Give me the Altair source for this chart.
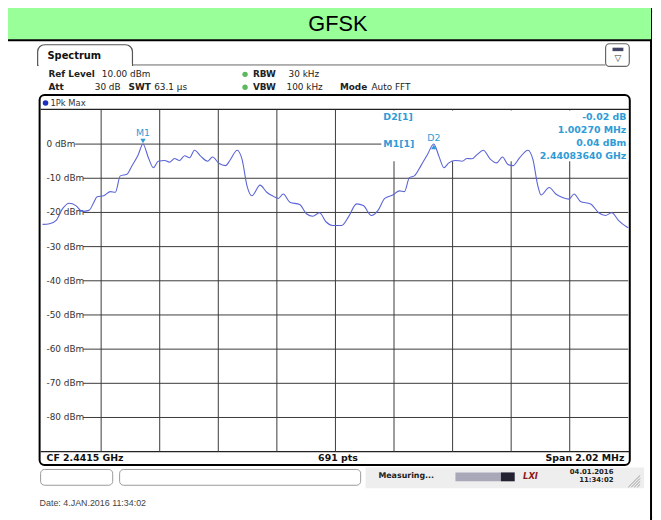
import altair as alt

# ---------------- data ----------------
# frequency offset from CF 2.4415 GHz, in kHz  /  level in dBm
freq_khz = [-1010, -986, -963, -941, -918, -895, -873, -850, -833, -822,
            -799, -776, -759, -742, -719, -702, -680, -664, -645, -628,
            -611, -589, -572, -555, -538, -520, -503, -486, -464, -441,
            -424, -401, -379, -362, -339, -322, -305, -288, -260, -237,
            -214, -197, -180, -157, -123, -100, -78, -55, -32, -10,
            22, 45, 73, 96, 124, 147, 170, 198, 221, 238,
            255, 272, 295, 317, 339, 357, 374, 391, 414, 437,
            454, 471, 488, 510, 533, 556, 576, 595, 612, 635,
            664, 681, 698, 709, 737, 760, 783, 806, 823, 845,
            880, 908, 931, 953, 976, 1004, 1010]
level_dbm = [-23.5, -23.3, -22.3, -18.9, -17.3, -18.0, -19.7, -19.4, -17.0, -15.4,
             -15.1, -13.9, -14.1, -9.3, -8.8, -6.4, -3.1, 0.04, -4.0, -6.9,
             -5.0, -4.8, -5.3, -4.2, -4.8, -3.4, -4.0, -1.8, -3.6, -5.0,
             -3.8, -5.7, -6.3, -4.5, -1.8, -4.5, -12.2, -15.1, -12.0, -14.1,
             -15.3, -15.9, -14.6, -17.0, -17.7, -20.4, -21.1, -20.1, -22.8, -23.8,
             -23.8, -21.3, -17.5, -18.0, -20.9, -19.4, -15.9, -14.9, -13.7, -13.9,
             -9.8, -9.3, -6.3, -3.1, 0.02, -3.6, -6.9, -5.5, -4.8, -5.0,
             -4.2, -4.3, -3.1, -1.8, -4.3, -5.5, -3.8, -6.0, -6.3, -4.0,
             -1.8, -4.5, -12.2, -14.9, -12.7, -14.6, -15.6, -16.1, -14.6, -16.8,
             -17.5, -20.1, -20.9, -20.1, -22.3, -24.2, -24.5]

grid_freqs = [-808, -606, -404, -202, 0, 202, 404, 606, 808]
grid_levels = [0, -10, -20, -30, -40, -50, -60, -70, -80]
grid_labels = ["0 dBm", "-10 dBm", "-20 dBm", "-30 dBm", "-40 dBm",
               "-50 dBm", "-60 dBm", "-70 dBm", "-80 dBm"]

marker_names = ["M1", "D2"]
marker_freqs = [-663.6, 339.1]
marker_levels = [0.04, 0.02]

title_text = "GFSK"
footer_text = "Date: 4.JAN.2016  11:34:02"

# ---------------- layout helpers ----------------
W, H = 653, 512
FONT = "DejaVu Sans"


def P(v):
    return v - 8


one = alt.Data(values=[{"k": 1}])


def rect(x1, y1, x2, y2, **kw):
    return alt.Chart(one).mark_rect(**kw).encode(
        x=alt.value(P(x1)), x2=alt.value(P(x2)),
        y=alt.value(P(y1)), y2=alt.value(P(y2)))


def seg(x1, y1, x2, y2, color="#333333", width=1.0, **kw):
    return alt.Chart(one).mark_rule(color=color, strokeWidth=width, **kw).encode(
        x=alt.value(P(x1)), x2=alt.value(P(x2)),
        y=alt.value(P(y1)), y2=alt.value(P(y2)))


def txt(s, x, y, size=9, bold=False, color="#222222", align="left", font=FONT, **kw):
    return alt.Chart(one).mark_text(
        text=s, font=font, fontSize=size, fontWeight="bold" if bold else "normal",
        color=color, align=align, baseline="middle", **kw).encode(
        x=alt.value(P(x)), y=alt.value(P(y)))


xs = alt.Scale(domain=[-1010, 1010], range=[P(43), P(636)], nice=False, zero=False)
ys = alt.Scale(domain=[-90, 10], range=[P(454), P(108)], nice=False, zero=False)

trace_df = alt.Data(values=[{"f": f, "l": l} for f, l in zip(freq_khz, level_dbm)])
vgrid_df = alt.Data(values=[{"f": f} for f in grid_freqs])
hgrid_df = alt.Data(values=[{"l": l, "lab": s} for l, s in zip(grid_levels, grid_labels)])
mark_df = alt.Data(values=[{"n": n, "f": f, "l": l}
                           for n, f, l in zip(marker_names, marker_freqs, marker_levels)])

MBLUE = "#2f9bd7"
GRID = "#3a3a3a"

layers = []

# outer frame + title bar
layers.append(rect(4, 1, 659, 530, fill="white", stroke="black", strokeWidth=2))
layers.append(rect(4, 2, 659, 37, fill="#99FF99"))
layers.append(seg(4, 37.5, 659, 37.5, color="black", width=2))
layers.append(txt(title_text, 342, 21, size=22, font="Liberation Sans", color="black", align="center"))

# Spectrum tab and header line
layers.append(seg(134, 62.5, 613, 62.5, color="#666666", width=1))
layers.append(rect(38, 42, 134, 63, fill="white", stroke="#555555", strokeWidth=1.2,
                   cornerRadiusTopLeft=7, cornerRadiusTopRight=7))
layers.append(rect(39, 61, 133.5, 64, fill="white"))
layers.append(txt("Spectrum", 48, 53, size=10, bold=True, color="#111111"))
layers.append(rect(613, 41, 637, 64, fill="white", stroke="#666666", strokeWidth=1.2, cornerRadius=4))
layers.append(rect(620, 45, 631, 48.5, fill="#444466"))
layers.append(txt("\u25bd", 625.5, 55.5, size=9, color="#333333", align="center"))

# header settings
layers += [
    txt("Ref Level", 49, 72, bold=True),
    txt("10.00 dBm", 103, 72),
    txt("RBW", 256, 72, bold=True),
    txt("30 kHz", 292, 72),
    txt("Att", 49, 85, bold=True),
    txt("30 dB", 122, 85, align="right"),
    txt("SWT", 130, 85, bold=True),
    txt("63.1 \u00b5s", 156, 85),
    txt("VBW", 256, 85, bold=True),
    txt("100 kHz", 290, 85),
    txt("Mode", 344, 85, bold=True),
    txt("Auto FFT", 376, 85),
]
for yy in (72, 85):
    layers.append(alt.Chart(one).mark_point(shape="circle", filled=True, size=30,
                                            color="#5cb85c", opacity=1).encode(
        x=alt.value(P(248)), y=alt.value(P(yy))))

# display frame
layers.append(rect(40, 93, 637.5, 467.5, fill="white", stroke="black", strokeWidth=2, cornerRadius=5))
layers.append(alt.Chart(one).mark_point(shape="circle", filled=True, size=32,
                                        color="#1c2fbf", opacity=1).encode(
    x=alt.value(P(46)), y=alt.value(P(101))))
layers.append(txt("1Pk Max", 51, 101, size=8.5, color="#333333"))

# plot box borders
layers.append(seg(41, 107.5, 637, 107.5, color="#222222", width=1.2))
layers.append(seg(41, 454, 637, 454, color="#222222", width=1.2))

# grid
layers.append(alt.Chart(vgrid_df).mark_rule(color=GRID, strokeWidth=1).encode(
    x=alt.X("f:Q", scale=xs, axis=None),
    y=alt.value(P(108)), y2=alt.value(P(454))))
layers.append(alt.Chart(hgrid_df).transform_filter("datum.l < 0").mark_rule(
    color=GRID, strokeWidth=1).encode(
    y=alt.Y("l:Q", scale=ys, axis=None),
    x=alt.value(P(84)), x2=alt.value(P(636))))
layers.append(alt.Chart(hgrid_df).transform_filter("datum.l == 0").mark_rule(
    color=GRID, strokeWidth=1).encode(
    y=alt.Y("l:Q", scale=ys, axis=None),
    x=alt.value(P(76)), x2=alt.value(P(636))))
layers.append(alt.Chart(hgrid_df).mark_text(
    font=FONT, fontSize=9, color="#333333", align="left", baseline="middle").encode(
    y=alt.Y("l:Q", scale=ys, axis=None), x=alt.value(P(47)), text="lab:N"))

# marker info box (covers grid)
layers.append(rect(386, 108.6, 636, 160, fill="white"))

# trace
layers.append(alt.Chart(trace_df).mark_line(
    color="#5a64d6", strokeWidth=1.1, interpolate="monotone").encode(
    x=alt.X("f:Q", scale=xs, axis=None),
    y=alt.Y("l:Q", scale=ys, axis=None)))

# markers
m1 = alt.Chart(mark_df).transform_filter("datum.n == 'M1'")
d2 = alt.Chart(mark_df).transform_filter("datum.n == 'D2'")
layers.append(m1.mark_point(shape="triangle-down", filled=True, size=30, color=MBLUE,
                            opacity=1, yOffset=-3).encode(
    x=alt.X("f:Q", scale=xs, axis=None), y=alt.Y("l:Q", scale=ys, axis=None)))
layers.append(d2.mark_point(shape="triangle-up", filled=True, size=30, color=MBLUE,
                            opacity=1, yOffset=3).encode(
    x=alt.X("f:Q", scale=xs, axis=None), y=alt.Y("l:Q", scale=ys, axis=None)))
layers.append(m1.mark_text(font=FONT, fontSize=9.5, color=MBLUE, baseline="middle",
                           dy=-11.5).encode(
    x=alt.X("f:Q", scale=xs, axis=None), y=alt.Y("l:Q", scale=ys, axis=None), text="n:N"))
layers.append(d2.mark_text(font=FONT, fontSize=9.5, color=MBLUE, baseline="middle",
                           dy=-6.5).encode(
    x=alt.X("f:Q", scale=xs, axis=None), y=alt.Y("l:Q", scale=ys, axis=None), text="n:N"))

# marker table
layers += [
    txt("D2[1]", 388, 115.5, size=9.5, bold=True, color=MBLUE),
    txt("M1[1]", 388, 142.5, size=9.5, bold=True, color=MBLUE),
    txt("-0.02 dB", 634, 115.5, size=9.5, bold=True, color=MBLUE, align="right"),
    txt("1.00270 MHz", 634, 128.5, size=9.5, bold=True, color=MBLUE, align="right"),
    txt("0.04 dBm", 634, 141.5, size=9.5, bold=True, color=MBLUE, align="right"),
    txt("2.44083640 GHz", 634, 154.5, size=9.5, bold=True, color=MBLUE, align="right"),
]

# bottom info bar
layers += [
    txt("CF 2.4415 GHz", 47, 460.5, size=9.5, bold=True, color="#111111"),
    txt("691 pts", 342, 460.5, size=9.5, bold=True, color="#111111", align="center"),
    txt("Span 2.02 MHz", 632, 460.5, size=9.5, bold=True, color="#111111", align="right"),
]

# status bar
layers.append(rect(370, 470, 652, 491, fill="#eeeeee"))
layers.append(rect(41, 472, 114, 488, fill="white", stroke="#999999", strokeWidth=1, cornerRadius=4))
layers.append(rect(121, 472, 365, 488, fill="white", stroke="#999999", strokeWidth=1, cornerRadius=4))
layers.append(txt("Measuring...", 383, 479, size=8, bold=True, color="#222222"))
layers.append(rect(461, 475, 507, 484, fill="#a8a8b8"))
layers.append(rect(507, 475, 521, 484, fill="#222233"))
layers.append(txt("LXI", 537, 479, size=8.5, bold=True, color="#8a1a1a", align="center",
                  fontStyle="italic"))
layers.append(txt("04.01.2016", 621, 475, size=7, bold=True, color="#222222", align="right"))
layers.append(txt("11:34:02", 621, 483, size=7, bold=True, color="#222222", align="right"))
for k in range(5):
    layers.append(seg(636 + 3 * k, 490, 648, 478 + 3 * k, color="#888888", width=0.8))

# footer
layers.append(txt(footer_text, 40, 506, size=9, font="Liberation Sans", color="#444444"))

chart = alt.layer(*layers).properties(
    width=W, height=H, padding=0,
    autosize=alt.AutoSizeParams(type="none"),
).configure_view(stroke=None).configure(background="white")

chart.save("out.html", embed_options={"renderer": "svg", "actions": False})
